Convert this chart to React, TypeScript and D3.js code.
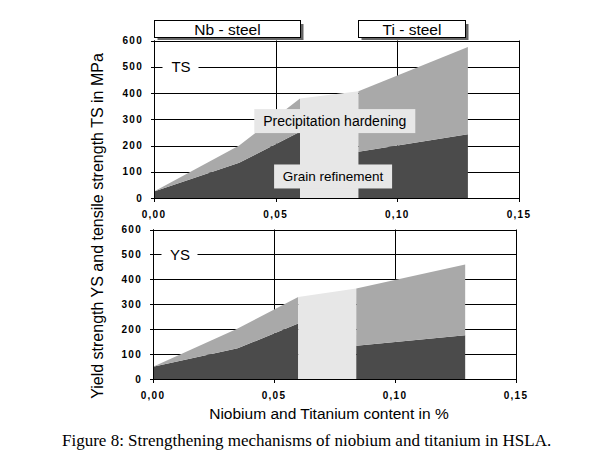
import React from 'react';
import * as d3 from 'd3';

// ---- data ----
const nbX = [0, 0.035, 0.06];
const tiX = [0.084, 0.129];
const tsNbGrain = [25, 134, 252];
const tsNbTotal = [25, 200, 379];
const tsTiGrain = [176, 243];
const tsTiTotal = [407, 575];
const ysNbGrain = [49, 123, 223];
const ysNbTotal = [49, 203, 329];
const ysTiGrain = [133, 176];
const ysTiTotal = [363, 460];
const yTicks = [0, 100, 200, 300, 400, 500, 600];
const xTicks = [0, 0.05, 0.1, 0.15];
const xTickLabels = ['0,00', '0,05', '0,10', '0,15'];
const steels = ['Nb - steel', 'Ti - steel'];
const steelRanges = [[0, 0.06], [0.084, 0.128]];
const mechanisms = ['Precipitation hardening', 'Grain refinement'];
const mechanismPos = [[0.0743, 293], [0.0736, 82]];
const mechanismBox = [[161, 24], [118, 24]];

const DARK = '#4b4b4b';
const GRAY = '#a9a9a9';
const LIGHT = '#e7e7e7';
const SANS = '"Liberation Sans", Arial, sans-serif';

type PanelProps = {
  left: number; right: number; top: number; bottom: number;
  nbGrain: number[]; nbTotal: number[]; tiGrain: number[]; tiTotal: number[];
  label: string; headers?: boolean; mechs?: boolean;
};

function Panel(p: PanelProps) {
  const x = d3.scaleLinear().domain([0, 0.15]).range([p.left, p.right]);
  const y = d3.scaleLinear().domain([0, 600]).range([p.bottom, p.top]);
  const area = d3.area<[number, number, number]>()
    .x(d => x(d[0])).y0(d => y(d[1])).y1(d => y(d[2]));
  const nbDark = nbX.map((v, i) => [v, 0, p.nbGrain[i]] as [number, number, number]);
  const nbGray = nbX.map((v, i) => [v, p.nbGrain[i], p.nbTotal[i]] as [number, number, number]);
  const tiDark = tiX.map((v, i) => [v, 0, p.tiGrain[i]] as [number, number, number]);
  const tiGray = tiX.map((v, i) => [v, p.tiGrain[i], p.tiTotal[i]] as [number, number, number]);
  const band: [number, number, number][] = [
    [nbX[nbX.length - 1], 0, p.nbTotal[p.nbTotal.length - 1]],
    [tiX[0], 0, p.tiTotal[0]],
  ];
  const labY = y(500);
  return (
    <g>
      {/* grid */}
      {yTicks.map(t => (
        <line key={'h' + t} x1={p.left - 3} x2={p.right} y1={Math.round(y(t)) + 0.5} y2={Math.round(y(t)) + 0.5} stroke="#000" />
      ))}
      {xTicks.map(t => (
        <line key={'v' + t} x1={Math.round(x(t)) + 0.5} x2={Math.round(x(t)) + 0.5} y1={p.top} y2={p.bottom + 4} stroke="#000" />
      ))}
      {/* areas */}
      <path d={area(nbDark)!} fill={DARK} />
      <path d={area(nbGray)!} fill={GRAY} />
      <path d={area(band)!} fill={LIGHT} />
      <path d={area(tiDark)!} fill={DARK} />
      <path d={area(tiGray)!} fill={GRAY} />
      {/* left axis + bottom axis */}
      <line x1={Math.round(p.left) + 0.5} x2={Math.round(p.left) + 0.5} y1={p.top} y2={p.bottom + 4} stroke="#000" />
      <line x1={p.left} x2={p.right} y1={Math.round(p.bottom) + 0.5} y2={Math.round(p.bottom) + 0.5} stroke="#000" />
      {/* y tick labels */}
      {yTicks.map(t => (
        <text key={'yl' + t} x={p.left - 11} y={y(t)} dy="0.35em" textAnchor="end"
          fontFamily={SANS} fontWeight="bold" fontSize={10} letterSpacing={1.3}>{t}</text>
      ))}
      {xTicks.map((t, i) => (
        <text key={'xl' + t} x={x(t)} y={p.bottom + 16} dy="0.35em" textAnchor="middle"
          fontFamily={SANS} fontWeight="bold" fontSize={10} letterSpacing={1.3}>{xTickLabels[i]}</text>
      ))}
      {/* panel label */}
      <rect x={p.left + 8.5} y={labY - 10} width={36} height={20} fill="#fff" />
      <text x={p.left + 27} y={labY} dy="0.36em" textAnchor="middle" fontFamily={SANS} fontSize={15}>{p.label}</text>
      {p.mechs && mechanisms.map((m, i) => (
        <g key={m}>
          <rect x={x(mechanismPos[i][0]) - mechanismBox[i][0] / 2} y={y(mechanismPos[i][1]) - mechanismBox[i][1] / 2}
            width={mechanismBox[i][0]} height={mechanismBox[i][1]} fill={LIGHT} />
          <text x={x(mechanismPos[i][0])} y={y(mechanismPos[i][1])} dy="0.36em" textAnchor="middle"
            fontFamily={SANS} fontSize={i === 0 ? 14 : 13.5}>{m}</text>
        </g>
      ))}
      {p.headers && steels.map((s, i) => {
        const x0 = Math.round(x(steelRanges[i][0])) + 0.5;
        const x1 = Math.round(x(steelRanges[i][1])) + 0.5;
        return (
          <g key={s}>
            <rect x={x0 + 3} y={24} width={x1 - x0} height={16} fill="#666" />
            <rect x={x0} y={20.5} width={x1 - x0} height={17} fill="#fff" stroke="#000" />
            <text x={(x0 + x1) / 2} y={29.5} dy="0.36em" textAnchor="middle" fontFamily={SANS} fontSize={15.5}>{s}</text>
          </g>
        );
      })}
    </g>
  );
}

export default function App() {
  return (
    <svg width={604} height={466} style={{ position: 'absolute', left: 0, top: 0, background: '#fff' }}>
      <rect width={604} height={466} fill="#fff" />
      <Panel left={154} right={519} top={40.5} bottom={198} nbGrain={tsNbGrain} nbTotal={tsNbTotal}
        tiGrain={tsTiGrain} tiTotal={tsTiTotal} label="TS" headers mechs />
      <Panel left={153} right={516} top={229.5} bottom={379} nbGrain={ysNbGrain} nbTotal={ysNbTotal}
        tiGrain={ysTiGrain} tiTotal={ysTiTotal} label="YS" />
      <text transform="translate(97,226) rotate(-90)" textAnchor="middle" dy="0.36em" fontFamily={SANS} fontSize={16}>
        Yield strength YS and tensile strength TS in MPa
      </text>
      <text x={329} y={413} dy="0.36em" textAnchor="middle" fontFamily={SANS} fontSize={15.5}>
        Niobium and Titanium content in %
      </text>
      <text x={62} y={446} fontFamily={'"Liberation Serif", "Times New Roman", serif'} fontSize={17}>
        Figure 8: Strengthening mechanisms of niobium and titanium in HSLA.
      </text>
    </svg>
  );
}
